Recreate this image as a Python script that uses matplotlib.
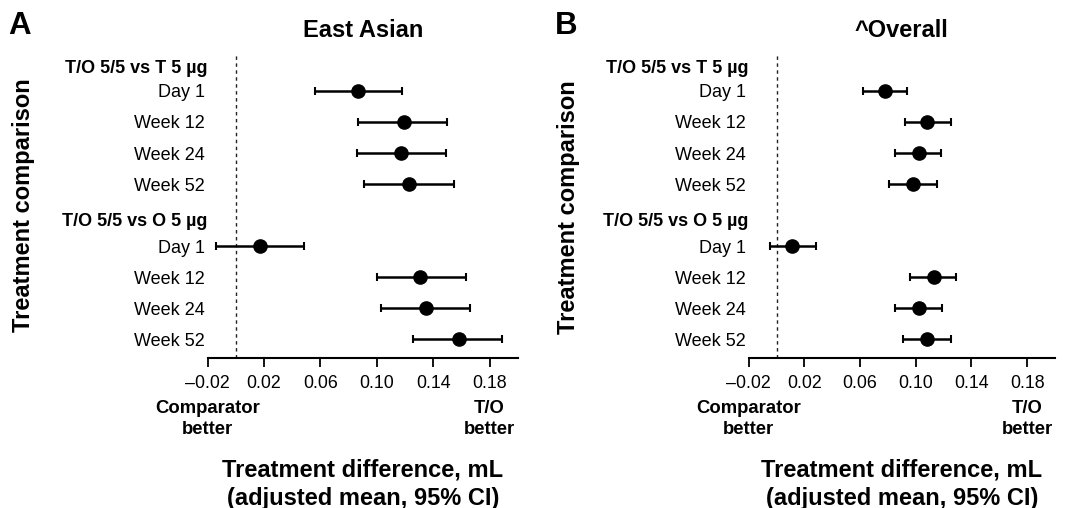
import matplotlib
matplotlib.use("Agg")
import matplotlib.pyplot as plt
import numpy as np

plt.rcParams['font.family'] = ['Liberation Sans', 'DejaVu Sans']

# ---- data ----
headers = ["T/O 5/5 vs T 5 \u00b5g", "T/O 5/5 vs O 5 \u00b5g"]
timepoints = ["Day 1", "Week 12", "Week 24", "Week 52"]

# East Asian
ea_T_mean = [0.087, 0.119, 0.117, 0.123]
ea_T_low = [0.056, 0.087, 0.086, 0.091]
ea_T_high = [0.118, 0.150, 0.149, 0.155]
ea_O_mean = [0.017, 0.131, 0.135, 0.158]
ea_O_low = [-0.014, 0.100, 0.103, 0.126]
ea_O_high = [0.048, 0.163, 0.166, 0.189]

# Overall
ov_T_mean = [0.078, 0.108, 0.102, 0.098]
ov_T_low = [0.062, 0.092, 0.085, 0.081]
ov_T_high = [0.094, 0.125, 0.118, 0.115]
ov_O_mean = [0.011, 0.113, 0.102, 0.108]
ov_O_low = [-0.005, 0.096, 0.085, 0.091]
ov_O_high = [0.028, 0.129, 0.119, 0.125]

xticks = [-0.02, 0.02, 0.06, 0.10, 0.14, 0.18]
xticklabels = ["\u20130.02", "0.02", "0.06", "0.10", "0.14", "0.18"]

panels = [
    ("A", "East Asian", (ea_T_mean, ea_T_low, ea_T_high), (ea_O_mean, ea_O_low, ea_O_high)),
    ("B", "^Overall", (ov_T_mean, ov_T_low, ov_T_high), (ov_O_mean, ov_O_low, ov_O_high)),
]

fig = plt.figure(figsize=(10.66, 5.08), dpi=100)
W, H = 1066, 508

ax_px = [(207.7, 517.7), (748.7, 1055.0)]
top_px, bot_px = 55, 358

# row positions: 0 header1, 1-4 group 1, 5 header2, 6-9 group 2
pos_T = np.array([1, 2, 3, 4])
pos_O = np.array([6, 7, 8, 9])
header_pos = [0.26, 5.2]

for i, (letter, title, gT, gO) in enumerate(panels):
    x0, x1 = ax_px[i]
    ax = fig.add_axes([x0 / W, 1 - bot_px / H, (x1 - x0) / W, (bot_px - top_px) / H])
    ax.set_xlim(-0.02, 0.20)
    ax.set_ylim(9.61, -0.16)
    ax.axvline(0, color='#222222', lw=1.0, ls=(0, (2.5, 2.5)), zorder=1)
    for pos, (m, lo, hi) in ((pos_T, gT), (pos_O, gO)):
        m = np.array(m); lo = np.array(lo); hi = np.array(hi)
        ax.errorbar(m, pos, xerr=[m - lo, hi - m], fmt='o', color='black',
                    ms=9.5, elinewidth=1.8, capsize=3.2, capthick=1.5, zorder=3)
    for s in ['top', 'right', 'left']:
        ax.spines[s].set_visible(False)
    ax.spines['bottom'].set_linewidth(1.5)
    ax.set_xticks(xticks)
    ax.set_xticklabels(xticklabels, fontsize=12.8)
    ax.tick_params(axis='x', length=6.5, width=1.3, pad=5.5)
    ylabels_pos = list(pos_T) + list(pos_O)
    ax.set_yticks(ylabels_pos)
    ax.set_yticklabels(timepoints * 2, fontsize=13)
    ax.tick_params(axis='y', length=0, pad=2)
    for hp, ht in zip(header_pos, headers):
        ax.text(-0.0015, hp, ht, transform=ax.get_yaxis_transform(), ha='right',
                va='center', fontsize=13, fontweight='bold')
    # title
    ax.set_title(title, fontsize=17, fontweight='bold', pad=13)
    # better labels
    ax.text(-0.02, -0.14, "Comparator\nbetter", transform=ax.get_xaxis_transform(),
            ha='center', va='top', fontsize=13.3, fontweight='bold', linespacing=1.3)
    ax.text(0.18, -0.14, "T/O\nbetter", transform=ax.get_xaxis_transform(),
            ha='center', va='top', fontsize=13.3, fontweight='bold', linespacing=1.3)
    # x label
    xc = (x0 + x1) / 2
    fig.text(xc / W, 1 - 459 / H, "Treatment difference, mL\n(adjusted mean, 95% CI)",
             ha='center', va='top', fontsize=17, fontweight='bold', linespacing=1.25)

fig.text(24 / W, 1 - 205 / H, "Treatment comparison", rotation=90, ha='center',
         va='center', fontsize=17, fontweight='bold')
fig.text(568 / W, 1 - 207 / H, "Treatment comparison", rotation=90, ha='center',
         va='center', fontsize=17, fontweight='bold')
fig.text(8 / W, 1 - 11 / H, "A", ha='left', va='top', fontsize=22.5, fontweight='bold')
fig.text(555 / W, 1 - 11 / H, "B", ha='left', va='top', fontsize=22.5, fontweight='bold')

fig.savefig("out.png", dpi=100)
